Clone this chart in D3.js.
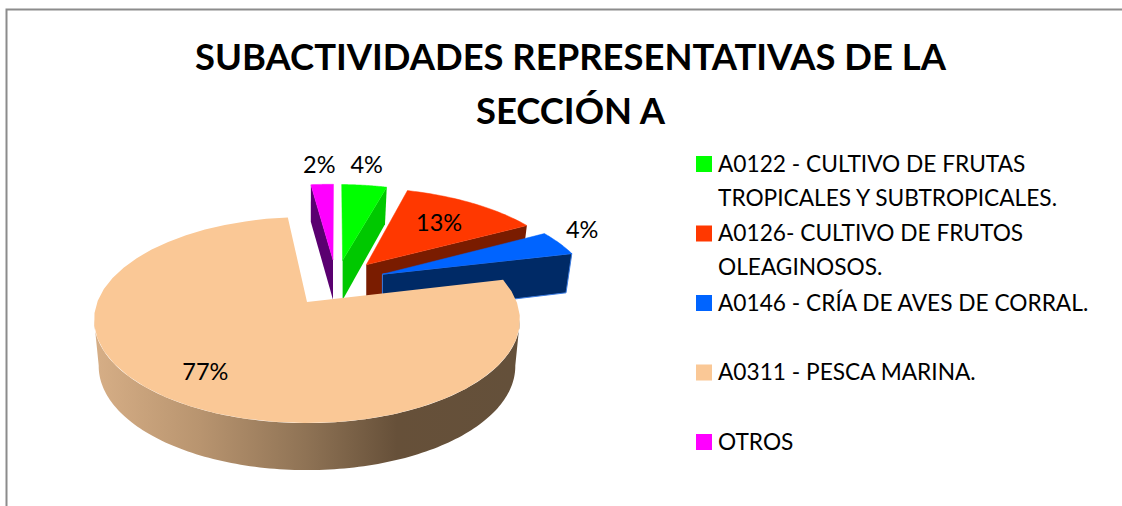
<!DOCTYPE html>
<html><head><meta charset="utf-8">
<style>html,body{margin:0;padding:0;background:#fff}svg{display:block}text{font-family:Lato,"Liberation Sans",sans-serif;fill:#000}</style>
<script src="https://d3js.org/d3.v7.min.js"></script></head>
<body><svg id="c" width="1122" height="506"></svg>
<script>
const titleLines = ["SUBACTIVIDADES REPRESENTATIVAS DE LA", "SECCIÓN A"];
const categories = ["A0122 - CULTIVO DE FRUTAS TROPICALES Y SUBTROPICALES.", "A0126- CULTIVO DE FRUTOS OLEAGINOSOS.", "A0146 - CRÍA DE AVES DE CORRAL.", "A0311 - PESCA MARINA.", "OTROS"];
const legendLines = [["A0122 - CULTIVO DE FRUTAS","TROPICALES Y SUBTROPICALES."],["A0126- CULTIVO DE FRUTOS","OLEAGINOSOS."],["A0146 - CRÍA DE AVES DE CORRAL."],["A0311 - PESCA MARINA."],["OTROS"]];
const values = [4.2, 12.6, 4.1, 77.0, 2.1];
const topColors = ["#00ff00", "#ff3800", "#0064ff", "#fac896", "#ff00ff"];
const wallColors = ["#00c800", "#7a1c00", "#002a66", "url(#wall)", "#5a0070"];

const svg = d3.select("#c");
const OX = 307, OY = 302, A = 209.7, B = 99.9, K = 0.175;   // perspective of the pie plane
const EXPLODE = 0.25, RADIUS = 1.03, START = 1.4 * Math.PI / 180;

const project = (u, v) => { const w = 1 + K * v; return { x: OX + A * u / w, y: OY - B * v / w, w }; };
const lower = p => ({ x: OX + (p.x - OX) * 0.978, y: p.y + Math.max(37, 47 - (p.w - 0.825) * 28.6) });
const lowerRim = p => ({ x: OX + (p.x - OX) * 0.978, y: p.y + 47 - (p.w - 0.825) * 6 });

const arcs = d3.pie().sort(null).startAngle(START).endAngle(START + 2 * Math.PI)(values);
const bisector = a => (a.startAngle + a.endAngle) / 2;
const peach = arcs[3];
const cu = -EXPLODE * Math.sin(bisector(peach)), cv = -EXPLODE * Math.cos(bisector(peach));

const slices = arcs.map((a, i) => {
  const m = bisector(a);
  const r = i === 3 ? 1 : RADIUS;
  const au = cu + EXPLODE * Math.sin(m), av = cv + EXPLODE * Math.cos(m);
  const at = (t, f = r) => project(au + f * Math.sin(t), av + f * Math.cos(t));
  return { a, i, at, apex: project(au, av) };
});

const line = d3.line().x(d => d.x).y(d => d.y);
const closed = pts => line(pts) + "Z";

const defs = svg.append("defs");
const g = defs.append("linearGradient").attr("id", "wall").attr("gradientUnits", "userSpaceOnUse")
  .attr("x1", 96).attr("x2", 514).attr("y1", 0).attr("y2", 0);
[[0, "#d6ae86"], [0.25, "#b8946f"], [0.5, "#8f7355"], [0.72, "#665039"], [1, "#64503a"]]
  .forEach(([o, c]) => g.append("stop").attr("offset", o).attr("stop-color", c));

svg.append("path").attr("d", "M6.5,506V9.5H1122").attr("fill", "none").attr("stroke", "#8c8c8c").attr("stroke-width", 2);

const title = svg.append("g");
title.selectAll("text").data(titleLines).join("text")
  .attr("x", 570.5).attr("y", (d, i) => 70 + i * 54).attr("text-anchor", "middle")
  .attr("font-size", 36.4).attr("font-weight", 700).text(d => d);

const angles = (a, b, n = 40) => d3.range(n + 1).map(k => a + (b - a) * k / n);
const pieG = svg.append("g");
// back to front: magenta, green, red, blue, peach
[4, 0, 1, 2, 3].forEach(i => {
  const s = slices[i], a = s.a;
  const top = [s.apex, ...angles(a.startAngle, a.endAngle).map(t => s.at(t))];
  if (i === 3) {
    const full = angles(a.startAngle, a.endAngle, 240).map(t => s.at(t));
    const rim = full.slice(d3.greatestIndex(full, p => p.x), d3.leastIndex(full, p => p.x) + 1);
    pieG.append("path").attr("d", closed([...rim, ...rim.map(lowerRim).reverse()])).attr("fill", wallColors[i]);
  } else {
    const edgeAngle = i === 4 ? a.startAngle : a.endAngle;
    const e = s.at(edgeAngle);
    const b0 = { x: s.apex.x, y: lower(s.apex).y }, b1 = lower(e);
    pieG.append("path").attr("d", closed([s.apex, e, b1, b0])).attr("fill", wallColors[i])
      .attr("stroke", i === 2 ? "#3c7ce0" : "none").attr("stroke-width", 1);
  }
  pieG.append("path").attr("d", closed(top)).attr("fill", topColors[i])
    .attr("stroke", i === 3 ? "none" : topColors[i]).attr("stroke-width", 0.5);
});

// data labels: radial placement per slice
const labelR = [1.39, 0.68, 1.25, 0.75, 1.37];
const labelTurn = [-1, 0, -5, 0, 0];
const labels = svg.append("g");
slices.forEach(s => {
  const p = s.at(bisector(s.a) + labelTurn[s.i] * Math.PI / 180, labelR[s.i]);
  labels.append("text").attr("x", p.x).attr("y", p.y).attr("text-anchor", "middle")
    .attr("dominant-baseline", "central").attr("font-size", 23.5).text(Math.round(values[s.i]) + "%");
});

// legend
const legendY = d3.scalePoint().domain(d3.range(categories.length)).range([163, 441]);
const legend = svg.append("g");
legendLines.forEach((lines, i) => {
  const y = legendY(i);
  legend.append("rect").attr("x", 696).attr("y", y - 7).attr("width", 16).attr("height", 16).attr("fill", topColors[i]);
  lines.forEach((t, j) => legend.append("text").attr("x", 718).attr("y", y + j * 34)
    .attr("dominant-baseline", "central").attr("font-size", 22.7).text(t));
});
</script></body></html>
